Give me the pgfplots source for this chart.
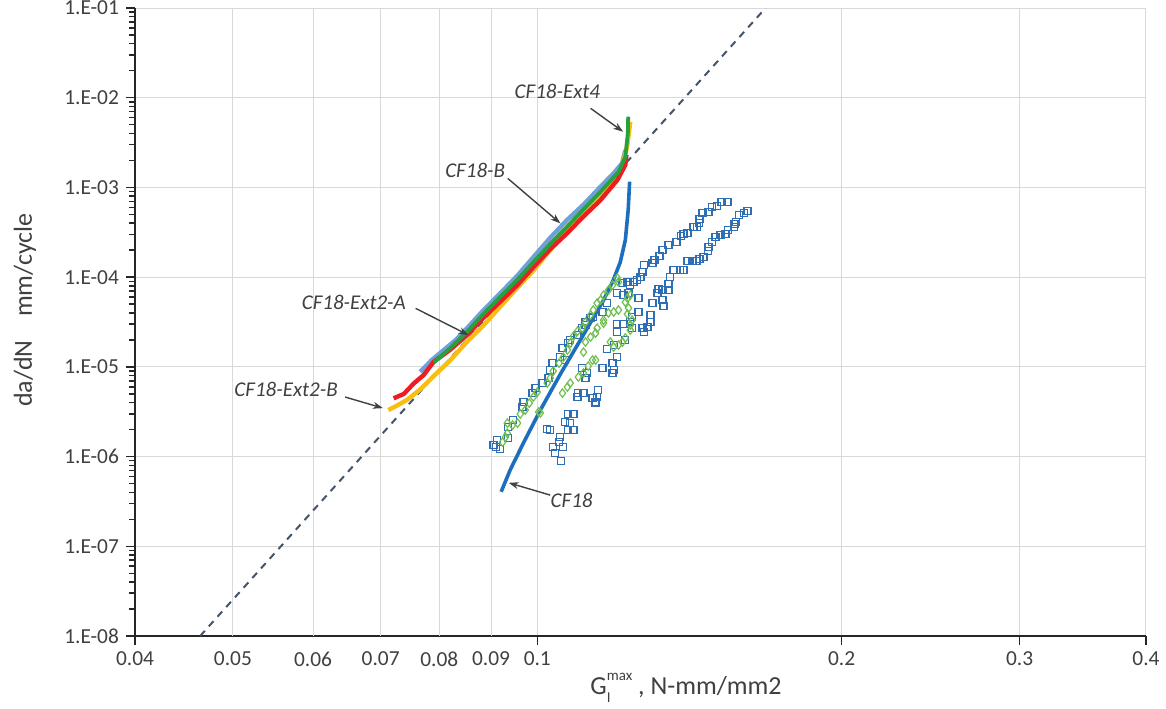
\documentclass[border=0pt]{standalone}
\usepackage{pgfplots}
\pgfplotsset{compat=1.18}
\usepackage{fontspec}
\setmainfont{Carlito}
\usetikzlibrary{arrows.meta}
\definecolor{lbcol}{RGB}{112,160,214}
\definecolor{grcol}{RGB}{40,160,60}
\definecolor{rdcol}{RGB}{235,30,35}
\definecolor{ylcol}{RGB}{248,190,20}
\definecolor{dbcol}{RGB}{30,110,190}
\definecolor{sqcol}{RGB}{46,110,180}
\definecolor{dicol}{RGB}{110,190,80}
\definecolor{dashcol}{RGB}{68,84,106}
\definecolor{gridcol}{RGB}{217,217,217}
\definecolor{txtcol}{RGB}{64,64,64}

\pgfplotstableread{
G y
0.0905 1.34e-6
0.0911 1.27e-6
0.0919 1.21e-6
0.0913 1.53e-6
0.0936 1.61e-6
0.0936 2.13e-6
0.0947 2.55e-6
0.0967 3.56e-6
0.0969 4.05e-6
0.0989 5.10e-6
0.0996 5.80e-6
0.1012 6.59e-6
0.1026 7.50e-6
0.1030 9.21e-6
0.1035 1.10e-5
0.1054 1.28e-5
0.1059 1.62e-5
0.1066 1.19e-5
0.1073 1.84e-5
0.1078 1.99e-5
0.1096 2.26e-5
0.1108 2.70e-5
0.1116 2.92e-5
0.1116 3.15e-5
0.1129 3.50e-5
0.1136 3.60e-5
0.1160 4.09e-5
0.1173 5.14e-5
0.1200 6.65e-5
0.1214 8.59e-5
0.1228 8.82e-5
0.1236 8.16e-5
0.1245 8.82e-5
0.1256 9.28e-5
0.1265 1.00e-4
0.1271 1.14e-4
0.1274 1.364e-4
0.1300 1.44e-4
0.1306 1.551e-4
0.1321 1.72e-4
0.1330 2.005e-4
0.1348 2.279e-4
0.1373 2.46e-4
0.1386 2.87e-4
0.1395 3.02e-4
0.1408 3.10e-4
0.1427 3.62e-4
0.1440 3.62e-4
0.1444 4.01e-4
0.1447 4.44e-4
0.1457 5.18e-4
0.1477 5.32e-4
0.1490 6.05e-4
0.1507 6.21e-4
0.1521 6.87e-4
0.1542 6.87e-4
0.1056 8.91e-7
0.1042 1.09e-6
0.1037 1.27e-6
0.1051 1.45e-6
0.1061 1.27e-6
0.1054 1.65e-6
0.1073 1.97e-6
0.1086 1.97e-6
0.1030 1.97e-6
0.1023 2.02e-6
0.1066 2.42e-6
0.1073 2.98e-6
0.1086 2.98e-6
0.1078 2.36e-6
0.1096 4.61e-6
0.1098 5.10e-6
0.1111 5.10e-6
0.1134 4.49e-6
0.1142 4.00e-6
0.1146 4.61e-6
0.1149 5.51e-6
0.1108 9.70e-6
0.1120 8.53e-6
0.1116 7.50e-6
0.1160 9.70e-6
0.1173 1.58e-5
0.1187 1.10e-5
0.1187 8.53e-6
0.1190 9.21e-6
0.1200 1.28e-5
0.1190 1.75e-5
0.1200 2.44e-5
0.1200 3.00e-5
0.1217 3.00e-5
0.1222 1.99e-5
0.1236 3.15e-5
0.1241 3.60e-5
0.1241 2.70e-5
0.1217 6.31e-5
0.1231 6.65e-5
0.1259 5.85e-5
0.1259 4.09e-5
0.1271 2.70e-5
0.1274 2.44e-5
0.1285 2.77e-5
0.1294 3.15e-5
0.1294 3.78e-5
0.1300 5.14e-5
0.1315 6.65e-5
0.1318 7.36e-5
0.1330 7.18e-5
0.1330 5.55e-5
0.1333 4.76e-5
0.1348 7.18e-5
0.1348 8.37e-5
0.1354 1.00e-4
0.1364 1.20e-4
0.1383 1.20e-4
0.1395 1.20e-4
0.1408 1.51e-4
0.1424 1.51e-4
0.1437 1.51e-4
0.1447 1.59e-4
0.1460 1.67e-4
0.1474 1.95e-4
0.1477 2.17e-4
0.1490 2.46e-4
0.1501 2.80e-4
0.1518 2.946e-4
0.1535 3.02e-4
0.1545 3.35e-4
0.1564 3.62e-4
0.1567 3.91e-4
0.1571 4.12e-4
0.1584 4.924e-4
0.1600 5.18e-4
0.1614 5.46e-4
}\squares

\pgfplotstableread{
G y
0.0924 1.45e-6
0.0930 1.65e-6
0.0934 1.82e-6
0.0934 2.36e-6
0.0945 2.24e-6
0.0956 2.36e-6
0.0962 2.98e-6
0.0973 3.30e-6
0.0982 3.94e-6
0.0991 4.61e-6
0.1000 5.23e-6
0.1003 3.14e-6
0.1007 3.06e-6
0.1023 6.59e-6
0.1030 7.50e-6
0.1037 8.98e-6
0.1051 1.10e-5
0.1061 1.28e-5
0.1071 1.54e-5
0.1078 1.84e-5
0.1086 2.20e-5
0.1096 2.50e-5
0.1108 2.70e-5
0.1116 3.15e-5
0.1129 3.78e-5
0.1136 4.30e-5
0.1146 5.14e-5
0.1155 5.55e-5
0.1163 6.31e-5
0.1176 7.18e-5
0.1187 8.16e-5
0.1200 9.80e-5
0.1203 8.82e-5
0.1059 5.10e-6
0.1071 5.96e-6
0.1078 6.59e-6
0.1098 7.70e-6
0.1111 8.53e-6
0.1111 1.46e-5
0.1123 1.02e-5
0.1134 1.19e-5
0.1142 1.19e-5
0.1142 2.38e-5
0.1146 2.70e-5
0.1129 2.15e-5
0.1116 1.89e-5
0.1163 3.07e-5
0.1163 3.32e-5
0.1181 1.89e-5
0.1190 1.66e-5
0.1203 1.75e-5
0.1214 1.89e-5
0.1222 2.10e-5
0.1236 2.57e-5
0.1236 2.92e-5
0.1241 3.32e-5
0.1228 3.88e-5
0.1231 4.52e-5
0.1222 5.27e-5
0.1236 6.31e-5
0.1203 4.30e-5
0.1190 4.09e-5
0.1176 3.99e-5
0.1228 5.85e-5
}\diamonds

\begin{document}
\begin{tikzpicture}
\begin{axis}[
  at={(0,0)}, anchor=south west,
  width=505.5pt, height=314pt, scale only axis,
  xmode=log, ymode=log,
  xmin=0.04, xmax=0.4, ymin=1e-8, ymax=1e-1,
  axis x line*=bottom, axis y line*=left,
  axis line style={black!85, line width=0.9pt},
  xtick={0.04,0.1,0.2,0.3,0.4},
  xticklabels={0.04,0.1,0.2,0.3,0.4},
  extra x ticks={0.05,0.06,0.07,0.08,0.09},
  extra x tick labels={0.05,0.06,0.07,0.08,0.09},
  extra x tick style={grid=major, tick style={draw=none}},
  ytick={1e-8,1e-7,1e-6,1e-5,1e-4,1e-3,1e-2,1e-1},
  yticklabels={1.E-08,1.E-07,1.E-06,1.E-05,1.E-04,1.E-03,1.E-02,1.E-01},
  minor ytick={2e-8,3e-8,4e-8,5e-8,6e-8,7e-8,8e-8,9e-8,
               2e-7,3e-7,4e-7,5e-7,6e-7,7e-7,8e-7,9e-7,
               2e-6,3e-6,4e-6,5e-6,6e-6,7e-6,8e-6,9e-6,
               2e-5,3e-5,4e-5,5e-5,6e-5,7e-5,8e-5,9e-5,
               2e-4,3e-4,4e-4,5e-4,6e-4,7e-4,8e-4,9e-4,
               2e-3,3e-3,4e-3,5e-3,6e-3,7e-3,8e-3,9e-3,
               2e-2,3e-2,4e-2,5e-2,6e-2,7e-2,8e-2,9e-2},
  xminorticks=false,
  grid=major,
  major grid style={draw=gridcol, line width=0.5pt},
  tick align=outside,
  major tick length=4.5pt, minor tick length=3pt,
  tick style={black!85, line width=0.75pt},
  tick label style={font=\fontsize{10.7}{12}\selectfont, text=txtcol},
  /pgf/number format/assume math mode=true,
  xlabel={G\rlap{\raisebox{-0.3em}{\fontsize{7.5}{8}\selectfont I}}\raisebox{0.55em}{\fontsize{7.5}{8}\selectfont max} , N-mm/mm2},
  ylabel={da/dN\hspace{0.9em}mm/cycle},
  label style={font=\fontsize{13}{15}\selectfont, text=txtcol},
  xlabel style={at={(axis description cs:0.545,0)}, anchor=center, yshift=-26pt},
  ylabel style={at={(axis description cs:-0.1088,0.519)}, anchor=center},
]
\addplot[dashcol, line width=1pt, dash pattern=on 3.5pt off 3pt] coordinates {(0.0464,1e-8) (0.1682,1e-1)};

\addplot[only marks, mark=square, mark size=1.75pt, mark options={draw=sqcol, fill=none, line width=0.6pt}] table[x=G,y=y] {\squares};
\addplot[only marks, mark=diamond, mark size=2.1pt, mark options={draw=dicol, fill=none, line width=0.6pt}] table[x=G,y=y] {\diamonds};

% CF18
\addplot[dbcol, line width=1.8pt, line join=round] coordinates {
(0.0921,4.05e-7) (0.0940,7.08e-7) (0.0969,1.42e-6) (0.1007,3.30e-6) (0.1054,8.31e-6)
(0.1103,1.99e-5) (0.1163,5.55e-5) (0.1189,9.28e-5) (0.1208,1.47e-4) (0.1222,2.59e-4)
(0.1230,5.6e-4) (0.1234,1.16e-3)};

% CF18-B
\addplot[lbcol, line width=2.2pt, line join=round] coordinates {
(0.0766,8.82e-6) (0.0787,1.20e-5) (0.0808,1.54e-5) (0.0830,1.98e-5) (0.0852,2.69e-5)
(0.0885,4.30e-5) (0.0919,6.60e-5) (0.0955,1.03e-4) (0.0992,1.69e-4) (0.1030,2.75e-4)
(0.1070,4.33e-4) (0.1112,6.50e-4) (0.1155,1.02e-3) (0.1190,1.44e-3) (0.1213,1.86e-3)
(0.1222,2.61e-3)};

% CF18-Ext2-B
\addplot[ylcol, line width=2.2pt, line join=round] coordinates {
(0.07124,3.30e-6) (0.0728,3.75e-6) (0.0743,4.27e-6) (0.0766,5.60e-6) (0.0790,7.9e-6)
(0.0820,1.18e-5) (0.0852,1.905e-5) (0.0885,2.92e-5) (0.0919,4.68e-5) (0.0955,7.60e-5)
(0.0992,1.20e-4) (0.1030,2.02e-4) (0.1070,3.35e-4) (0.1112,5.15e-4) (0.1155,8.23e-4)
(0.1208,1.44e-3) (0.1227,2.84e-3) (0.1236,5.40e-3)};

% CF18-Ext2-A
\addplot[rdcol, line width=2.2pt, line join=round] coordinates {
(0.0721,4.46e-6) (0.0738,5.00e-6) (0.0755,6.55e-6) (0.0772,8.10e-6) (0.0790,1.14e-5)
(0.0820,1.55e-5) (0.0852,2.26e-5) (0.0885,3.55e-5) (0.0919,5.32e-5) (0.0955,8.10e-5)
(0.0992,1.306e-4) (0.1030,2.05e-4) (0.1070,3.08e-4) (0.1112,4.80e-4) (0.1155,7.24e-4)
(0.1200,1.21e-3) (0.1222,1.78e-3) (0.1225,2.30e-3)};

% CF18-Ext4
\addplot[grcol, line width=1.9pt, line join=round] coordinates {
(0.0790,1.12e-5) (0.0820,1.62e-5) (0.0852,2.46e-5) (0.0885,3.90e-5) (0.0919,6.04e-5)
(0.0955,9.30e-5) (0.0992,1.485e-4) (0.1030,2.35e-4) (0.1070,3.65e-4) (0.1112,5.75e-4)
(0.1155,8.95e-4) (0.1204,1.50e-3) (0.1222,2.20e-3) (0.1229,4.01e-3) (0.1230,6.14e-3)};

% annotations
\tikzset{ann/.style={font=\itshape\fontsize{10.5}{12}\selectfont, text=txtcol, inner sep=0pt},
         arr/.style={draw=txtcol, line width=0.7pt, -{Stealth[length=5pt,width=3.5pt]}}}
\node[ann, anchor=east] at (axis cs:0.1155,1.19e-2) {CF18-Ext4};
\draw[arr] (axis cs:0.1129,7.62e-3) -- (axis cs:0.1216,4.18e-3);
\node[ann, anchor=east] at (axis cs:0.0930,1.56e-3) {CF18-B};
\draw[arr] (axis cs:0.0935,1.26e-3) -- (axis cs:0.1054,3.98e-4);
\node[ann, anchor=east] at (axis cs:0.0742,5.28e-5) {CF18-Ext2-A};
\draw[arr] (axis cs:0.0758,4.49e-5) -- (axis cs:0.0855,2.26e-5);
\node[ann, anchor=east] at (axis cs:0.06354,5.66e-6) {CF18-Ext2-B};
\draw[arr] (axis cs:0.06456,4.61e-6) -- (axis cs:0.07036,3.47e-6);
\node[ann, anchor=west] at (axis cs:0.1030,3.27e-7) {CF18};
\draw[arr] (axis cs:0.1030,3.72e-7) -- (axis cs:0.0937,5.1e-7);
\end{axis}
\pgfresetboundingbox
\path[use as bounding box] (-67.5pt,-36pt) rectangle (515.5pt,318pt);
\end{tikzpicture}
\end{document}
